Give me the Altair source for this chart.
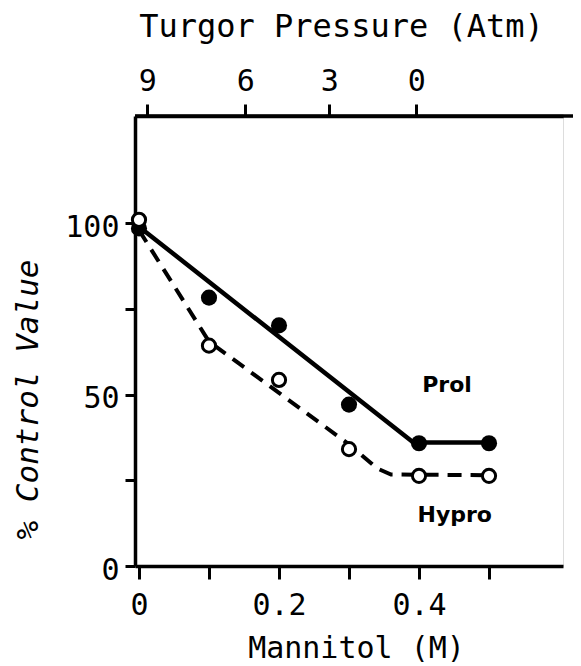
import altair as alt
import pandas as pd

# ---- data ----
mannitol = [0.0, 0.1, 0.2, 0.3, 0.4, 0.5]
prol = [98.5, 78.3, 70.2, 47.1, 35.8, 35.8]
hypro = [101.0, 64.3, 54.3, 34.1, 26.3, 26.3]

prol_fit_x = [0.0, 0.392, 0.5]
prol_fit_y = [99.0, 36.0, 36.0]
hypro_fit_x = [0.0, 0.1, 0.2, 0.3, 0.34, 0.36, 0.5]
hypro_fit_y = [98.0, 65.5, 50.5, 35.5, 28.5, 26.7, 26.5]

turgor_labels = ["9", "6", "3", "0"]
turgor_at_mannitol = [0.012, 0.152, 0.272, 0.396]

x_ticks = [0, 0.1, 0.2, 0.3, 0.4, 0.5]
x_labelled = [0, 0.2, 0.4]
y_ticks = [0, 25, 50, 75, 100]
y_labelled = [0, 50, 100]

series_labels = ["Prol", "Hypro"]
label_x = [0.44, 0.451]
label_y = [52.8, 14.9]

# ---- tables ----
pts = pd.DataFrame({"m": mannitol, "prol": prol, "hypro": hypro})
prol_fit = pd.DataFrame({"m": prol_fit_x, "v": prol_fit_y})
hypro_fit = pd.DataFrame({"m": hypro_fit_x, "v": hypro_fit_y})
labels = pd.DataFrame({"m": label_x, "v": label_y, "t": series_labels})
turgor = pd.DataFrame({"m": turgor_at_mannitol, "t": turgor_labels})

FONT = "DejaVu Sans Mono"
xs = alt.Scale(domain=[-0.0057, 0.6057], nice=False, zero=False)
ys = alt.Scale(domain=[0, 131.3], nice=False, zero=False)

x_lab_list = "[" + ",".join(str(round(v * 10)) for v in x_labelled) + "]"
x_axis = alt.Axis(
    values=x_ticks,
    labelExpr=f"indexof({x_lab_list}, round(datum.value*10)) >= 0 ? (datum.value == 0 ? '0' : format(datum.value, '.1f')) : ''",
    title="Mannitol (M)", grid=False,
    domainColor="black", domainWidth=3.5, tickColor="black", tickWidth=3, tickSize=13,
    labelFont=FONT, labelFontSize=30, labelColor="black", labelPadding=11,
    titleFont=FONT, titleFontSize=30, titleFontWeight="normal", titleColor="black",
    titleX=221, titleY=82, titleAlign="center", titleBaseline="middle",
)
y_lab_list = "[" + ",".join(str(v) for v in y_labelled) + "]"
y_axis = alt.Axis(
    values=y_ticks,
    labelExpr=f"indexof({y_lab_list}, datum.value) >= 0 ? datum.label : ''",
    title="% Control Value", grid=False,
    domainColor="black", domainWidth=3.5, tickColor="black", tickWidth=3, tickSize=10,
    labelFont=FONT, labelFontSize=30, labelColor="black", labelPadding=6, labelOffset=4,
    titleFont=FONT, titleFontSize=31, titleFontWeight="normal", titleFontStyle="italic",
    titleColor="black", titleX=-107, titleY=283, titleAngle=270,
    titleAlign="center", titleBaseline="middle",
)

def X(field="m"):
    return alt.X(f"{field}:Q", scale=xs, axis=x_axis)

def Y(field):
    return alt.Y(f"{field}:Q", scale=ys, axis=y_axis)

prol_line = alt.Chart(prol_fit).mark_line(color="black", strokeWidth=4.5).encode(
    x=X(), y=Y("v"))
hypro_line = alt.Chart(hypro_fit).mark_line(
    color="black", strokeWidth=4, strokeDash=[14, 9]).encode(x=X(), y=Y("v"))
prol_pts = alt.Chart(pts).mark_point(
    filled=True, color="black", size=260, opacity=1, shape="circle").encode(
    x=X(), y=Y("prol"))
hypro_pts = alt.Chart(pts).mark_point(
    filled=True, fill="white", stroke="black", strokeWidth=3, size=175,
    opacity=1, shape="circle").encode(x=X(), y=Y("hypro"))
text = alt.Chart(labels).mark_text(
    font="DejaVu Sans", fontSize=22, fontWeight="bold", color="black",
    align="center", baseline="middle").encode(x=X(), y=Y("v"), text="t:N")

main = alt.layer(prol_line, hypro_line, prol_pts, hypro_pts, text)

turgor_list = "[" + ",".join(str(v) for v in turgor_at_mannitol) + "]"
turgor_lab = "[" + ",".join(f"'{t}'" for t in turgor_labels) + "]"
top_axis = alt.Axis(
    orient="top", values=turgor_at_mannitol,
    labelExpr=f"{turgor_lab}[indexof({turgor_list}, datum.value)]",
    title="Turgor Pressure (Atm)", grid=False,
    domainColor="black", domainWidth=3.5, tickColor="black", tickWidth=3, tickSize=12,
    labelFont=FONT, labelFontSize=30, labelColor="black", labelPadding=8,
    titleFont=FONT, titleFontSize=32, titleFontWeight="normal", titleColor="black",
    titleX=206, titleY=-90, titleAlign="center", titleBaseline="middle",
)
top = alt.Chart(turgor).mark_point(opacity=0).encode(
    x=alt.X("m:Q", scale=xs, axis=top_axis))

frame_top = alt.Chart(pd.DataFrame({"a": [0]})).mark_rule(
    color="black", strokeWidth=3.5).encode(
    x=alt.value(0), x2=alt.value(446), y=alt.value(0))

chart = alt.layer(main, top, frame_top).resolve_axis(x="independent").properties(
    width=428, height=450,
    autosize=alt.AutoSizeParams(type="none"),
    padding={"left": 127, "top": 108, "right": 10, "bottom": 100},
).configure_view(stroke=None).configure(background="white")

chart.save("out.html", embed_options={"renderer": "svg", "actions": False})
